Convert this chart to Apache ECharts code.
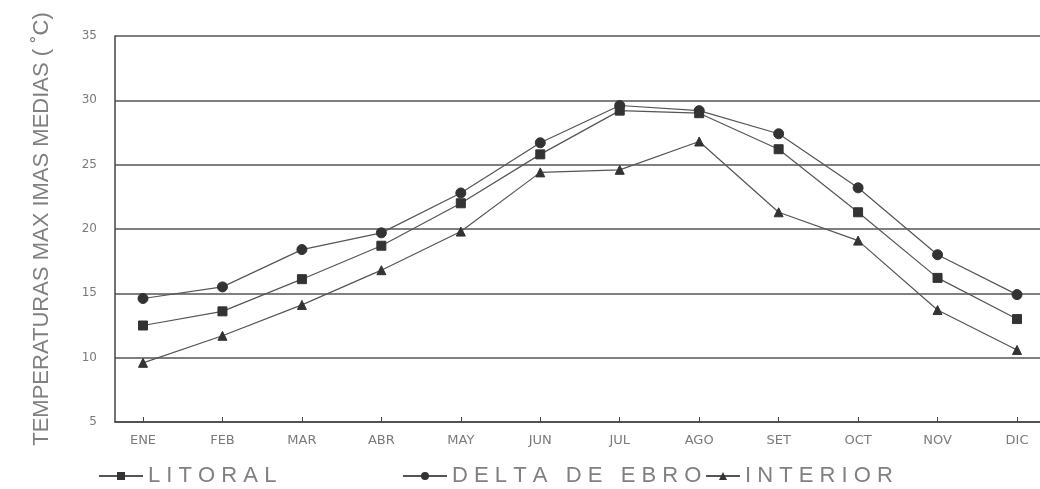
<!DOCTYPE html>
<html>
<head>
<meta charset="utf-8">
<script src="https://cdn.jsdelivr.net/npm/echarts@6/dist/echarts.min.js"></script>
<style>
html,body{margin:0;padding:0;background:#fff;}
#chart{width:1040px;height:489px;}
</style>
</head>
<body>
<div id="chart"></div>
<script>
const months = ['ENE','FEB','MAR','ABR','MAY','JUN','JUL','AGO','SET','OCT','NOV','DIC'];
const litoral  = [12.5, 13.6, 16.1, 18.7, 22.0, 25.8, 29.2, 29.0, 26.2, 21.3, 16.2, 13.0];
const delta    = [14.6, 15.5, 18.4, 19.7, 22.8, 26.7, 29.6, 29.2, 27.4, 23.2, 18.0, 14.9];
const interior = [9.6, 11.7, 14.1, 16.8, 19.8, 24.4, 24.6, 26.8, 21.3, 19.1, 13.7, 10.6];
const yTicks = [5, 10, 15, 20, 25, 30, 35];
const seriesNames = ['LITORAL', 'DELTA DE EBRO', 'INTERIOR'];
const legendLabels = {
  'LITORAL': 'L I T O R A L',
  'DELTA DE EBRO': 'D E L T A   D E   E B R O',
  'INTERIOR': 'I N T E R I O R'
};

const chart = echarts.init(document.getElementById('chart'), null, {renderer: 'canvas'});
const ink = '#444';
const textGray = '#7a7a7a';
const legendText = {fontFamily: 'Liberation Sans', fontSize: 22, color: '#808080'};

function mkSeries(name, data, symbol, size) {
  return {
    name: name, type: 'line', xAxisIndex: 1, yAxisIndex: 1,
    data: data, symbol: symbol, symbolSize: size,
    lineStyle: {color: '#555', width: 1.2},
    itemStyle: {color: '#333', borderColor: '#333'},
    animation: false
  };
}

chart.setOption({
  backgroundColor: '#fff',
  animation: false,
  grid: [
    {left: 115, right: 0, top: 36, bottom: 67},
    {left: 143, right: 23, top: 36, bottom: 67}
  ],
  xAxis: [
    {gridIndex: 0, type: 'value', min: 0, max: 1,
     axisLine: {show: true, lineStyle: {color: ink, width: 1.5}},
     axisTick: {show: false}, axisLabel: {show: false}, splitLine: {show: false}},
    {gridIndex: 1, type: 'category', boundaryGap: false, data: months,
     axisLine: {show: false},
     axisTick: {show: true, inside: true, length: 5, lineStyle: {color: ink, width: 1}},
     axisLabel: {margin: 12, fontFamily: 'DejaVu Sans', fontSize: 13, color: textGray},
     splitLine: {show: false}}
  ],
  yAxis: [
    {gridIndex: 0, type: 'value', min: yTicks[0], max: yTicks[yTicks.length-1], interval: 5,
     axisLine: {show: true, lineStyle: {color: ink, width: 1.5}},
     axisTick: {show: false},
     axisLabel: {margin: 18, fontFamily: 'DejaVu Sans', fontSize: 12, color: textGray},
     splitLine: {show: true, lineStyle: {color: '#555', width: 1.5}},
     name: 'TEMPERATURAS MAX IMAS MEDIAS ( ˚C)',
     nameLocation: 'middle', nameGap: 62,
     nameTextStyle: {fontFamily: 'Liberation Sans', fontSize: 22, color: '#808080'}},
    {gridIndex: 1, type: 'value', min: yTicks[0], max: yTicks[yTicks.length-1], show: false}
  ],
  legend: [
    {data: [seriesNames[0]], left: 93, top: 460, itemWidth: 44, itemHeight: 10, itemGap: 8,
     formatter: n => legendLabels[n], textStyle: legendText},
    {data: [seriesNames[1]], left: 397, top: 460, itemWidth: 44, itemHeight: 10, itemGap: 2,
     formatter: n => legendLabels[n], textStyle: legendText},
    {data: [seriesNames[2]], left: 700, top: 460, itemWidth: 34, itemHeight: 10, itemGap: 6,
     formatter: n => legendLabels[n], textStyle: legendText}
  ],
  series: [
    mkSeries(seriesNames[0], litoral, 'rect', 9),
    mkSeries(seriesNames[1], delta, 'circle', 10),
    mkSeries(seriesNames[2], interior, 'triangle', 9)
  ]
});
</script>
</body>
</html>
